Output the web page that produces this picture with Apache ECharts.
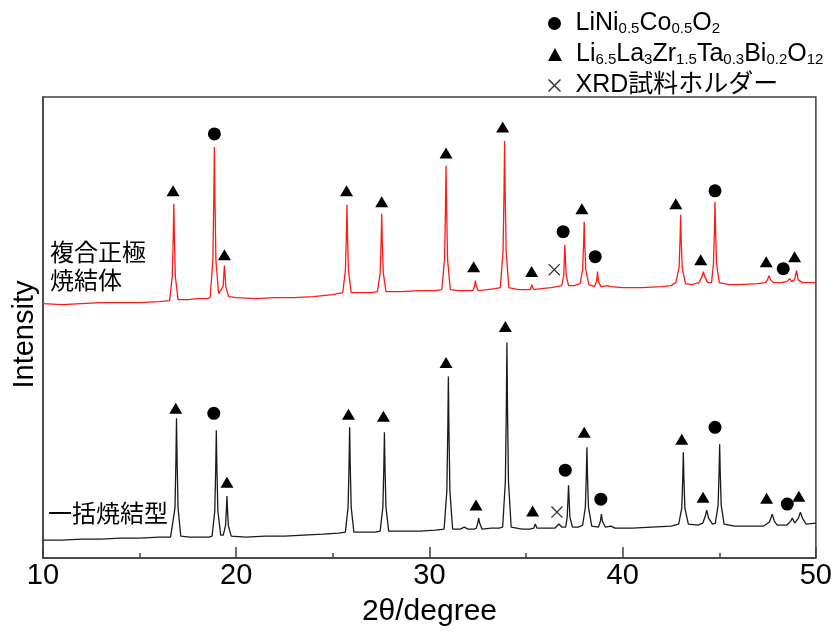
<!DOCTYPE html>
<html>
<head>
<meta charset="utf-8">
<script src="https://cdn.jsdelivr.net/npm/echarts@6/dist/echarts.min.js"></script>
<style>html,body{margin:0;padding:0;background:#fff}#c{width:835px;height:632px}</style>
</head>
<body>
<div id="c"></div>
<script>
// ---- data: [2theta, intensity (arb.)] ----
const xTicks = [10, 20, 30, 40, 50];

const tracePositive = [ // 複合正極焼結体 (red)
[10.0,255],[11.0,254],[12.0,255],[13.0,256],[14.0,256],[15.0,256],[16.0,257],
[16.55,258],[16.69,282],[16.74,321],[16.77,355],[16.80,321],[16.85,282],[16.99,259],
[17.5,259],[18.0,260],[18.5,260],
[18.65,261],[18.79,298],[18.84,359],[18.87,412],[18.90,359],[18.95,298],[19.09,265],
[19.17,264],[19.32,272],[19.39,293],[19.46,272],[19.61,262],
[20.0,261],[21.0,260],[22.0,261],[23.0,261],[24.0,262],[25.0,264],
[25.51,266],[25.65,288],[25.70,323],[25.73,354],[25.76,323],[25.81,288],[25.95,266],
[26.5,266],[27.0,266],
[27.31,267],[27.45,286],[27.50,317],[27.53,345],[27.56,317],[27.61,286],[27.75,267],
[28.5,267],[29.5,268],[30.3,268],
[30.64,269],[30.78,299],[30.83,349],[30.86,393],[30.89,349],[30.94,299],[31.08,269],
[31.5,268],[32.0,268],
[32.25,268],[32.33,272],[32.38,278],[32.43,272],[32.52,268],
[33.0,269],[33.4,270],
[33.67,271],[33.81,307],[33.86,366],[33.89,418],[33.92,366],[33.97,307],[34.11,271],
[34.6,269],[35.0,269],
[35.22,269],[35.30,274],[35.38,269],
[35.8,270],[36.3,271],[36.6,272],
[36.85,273],[36.95,283],[36.98,299],[37.01,314],[37.04,299],[37.08,283],[37.2,273],
[37.5,273],
[37.8,275],[37.93,289],[37.98,315],[38.01,337],[38.04,315],[38.09,289],[38.25,274],
[38.55,272],[38.65,277],[38.70,287],[38.75,277],[38.88,272],
[39.2,273],[39.3,275],[39.4,272],[40.0,271],[41.0,271],[42.0,272],[42.5,273],
[42.75,276],[42.92,291],[42.97,319],[43.0,344],[43.03,319],[43.08,291],[43.25,275],
[43.6,274],[43.95,276],
[44.05,278],[44.13,283],[44.18,287],[44.25,282],[44.4,276],
[44.6,276],
[44.70,295],[44.75,328],[44.78,357],[44.81,328],[44.86,295],[45.0,276],
[45.5,274],[46.0,274],[47.0,275],[47.4,276],
[47.5,279],[47.57,283],[47.65,279],[47.8,276],
[48.2,276],[48.5,277],[48.64,280],[48.75,277],[48.9,279],[49.0,288],[49.08,279],[49.3,276],[49.7,276],[50.0,276]
];

const traceBatch = [ // 一括焼結型 (black)
[10.0,18],[11.0,18],[12.0,19],[13.0,19],[14.0,20],[15.0,20],[16.0,21],[16.6,21],
[16.69,22],[16.83,50],[16.88,98],[16.91,140],[16.94,98],[16.99,50],[17.13,22],
[17.6,21],[18.2,21],[18.6,21],
[18.75,22],[18.89,47],[18.94,91],[18.97,128],[19.00,91],[19.05,47],[19.2,23],
[19.33,23],[19.45,33],[19.49,48],[19.52,62],[19.55,48],[19.59,33],[19.74,22],
[20.5,21],[21.5,22],[22.5,22],[23.5,23],[24.5,24],[25.3,25],
[25.65,26],[25.79,51],[25.84,94],[25.87,131],[25.90,94],[25.95,51],[26.09,26],
[26.7,26],[27.2,26],
[27.45,27],[27.59,51],[27.64,91],[27.67,126],[27.70,91],[27.75,51],[27.89,27],
[28.6,27],[29.5,27],[30.3,28],
[30.76,29],[30.90,67],[30.95,128],[30.98,182],[31.01,128],[31.06,67],[31.2,29],
[31.6,29],[31.8,31],[32.0,29],[32.3,29],
[32.43,30],[32.50,35],[32.55,40],[32.60,35],[32.72,29],
[33.2,30],[33.6,30],
[33.79,31],[33.93,77],[33.98,151],[34.01,216],[34.04,151],[34.09,77],[34.23,31],
[34.8,29],[35.2,29],
[35.40,30],[35.48,34],[35.56,30],
[36.0,30],[36.5,30],[36.7,34],[36.85,31],
[37.05,31],[37.13,41],[37.17,58],[37.2,73],[37.23,58],[37.27,41],[37.4,31],
[37.7,31],
[37.93,33],[38.07,51],[38.12,83],[38.15,111],[38.18,83],[38.23,51],[38.4,32],
[38.75,31],[38.85,37],[38.9,44],[38.95,37],[39.1,31],
[39.4,32],[39.6,30],[40.5,30],[41.5,31],[42.5,32],
[42.90,34],[43.06,50],[43.11,80],[43.14,106],[43.17,80],[43.22,50],[43.4,34],
[43.9,33],[44.15,35],
[44.28,42],[44.35,48],[44.45,40],[44.65,34],
[44.8,35],[44.94,53],[44.99,86],[45.02,114],[45.05,86],[45.10,53],[45.25,34],
[45.8,32],[46.5,32],[47.3,32],
[47.6,36],[47.74,44],[47.85,37],[48.0,33],
[48.5,33],[48.7,37],[48.78,40],[48.9,35],[49.1,40],[49.2,46],[49.3,40],[49.5,34],[50.0,35]
];

const markCircle = [ // LiNi0.5Co0.5O2
[18.87,425],[36.92,327],[38.58,302],[44.78,368],[48.31,290],
[18.84,145],[37.03,88],[38.87,59],[44.78,131],[48.52,54]
];
const markTriangle = [ // Li6.5La3Zr1.5Ta0.3Bi0.2O12
[16.73,368],[19.39,304],[25.71,368],[27.53,357],[30.86,406],[32.29,292],[33.79,432],
[35.29,287],[37.89,350],[42.75,355],[44.04,299],[47.43,297],[48.90,302],
[16.87,150],[19.52,76],[25.81,144],[27.62,142],[30.86,196],[32.41,53],[33.93,232],
[35.34,47],[38.01,126],[43.06,119],[44.16,61],[47.45,60],[49.12,62]
];
const markCross = [ // XRD試料ホルダー
[36.46,289],[36.60,46]
];

const legendNames = ['LNCO', 'LLZTB', 'HOLDER'];
const legendRich = {
  LNCO: '{p| }{n|LiNi}{s|0.5}{n|Co}{s|0.5}{n|O}{s|2}',
  LLZTB: '{p| }{n|Li}{s|6.5}{n|La}{s|3}{n|Zr}{s|1.5}{n|Ta}{s|0.3}{n|Bi}{s|0.2}{n|O}{s|12}',
  HOLDER: '{p| }{n|XRD試料ホルダー}'
};
const annotations = ['複合正極\n焼結体', '一括焼結型'];

// ---- chart ----
const FONT = '"Liberation Sans", Arial, "Noto Sans CJK JP", sans-serif';
const chart = echarts.init(document.getElementById('c'), null, {renderer: 'canvas'});
const crossPath = 'path://M0,8L8,0L100,92L92,100Z M92,0L100,8L8,100L0,92Z';
const rich = {
  p: {width: 9, fontSize: 20, lineHeight: 26},
  n: {fontSize: 25, lineHeight: 26, color: '#000', fontFamily: FONT},
  s: {fontSize: 15, lineHeight: 11, verticalAlign: 'bottom', color: '#000', fontFamily: FONT}
};
function mkLegend(name, top) {
  return {
    data: [name], left: 543, top: top, orient: 'vertical',
    itemWidth: 14, itemHeight: 13, selectedMode: false,
    formatter: n => legendRich[n],
    textStyle: {rich: rich, fontFamily: FONT}
  };
}
chart.setOption({
  animation: false,
  backgroundColor: '#fff',
  grid: {left: 43, right: 18, top: 97, bottom: 73, show: true, borderColor: '#404040', borderWidth: 1.5, backgroundColor: 'transparent'},
  legend: [mkLegend(legendNames[0], 6), mkLegend(legendNames[1], 37), mkLegend(legendNames[2], 68)],
  xAxis: {
    type: 'value', min: xTicks[0], max: xTicks[xTicks.length - 1], interval: 10,
    axisLine: {lineStyle: {color: '#404040', width: 1.5}},
    axisTick: {inside: true, length: 11, lineStyle: {color: '#404040', width: 1.5}},
    minorTick: {show: true, splitNumber: 2, length: 5, lineStyle: {color: '#404040', width: 1.5}},
    splitLine: {show: false},
    axisLabel: {fontSize: 29, color: '#000', margin: 3, fontFamily: FONT},
    name: '2θ/degree', nameLocation: 'middle', nameGap: 39,
    nameTextStyle: {fontSize: 30, color: '#000', fontFamily: FONT}
  },
  yAxis: {
    type: 'value', min: 0, max: 462,
    axisLine: {show: true, lineStyle: {color: '#404040', width: 1.5}},
    axisTick: {show: false}, axisLabel: {show: false}, splitLine: {show: false},
    name: 'Intensity', nameLocation: 'middle', nameGap: 3,
    nameTextStyle: {fontSize: 29, color: '#000', fontFamily: FONT, padding: [0, 14, 0, 0]}
  },
  graphic: [
    {type: 'text', left: 50, top: 238, style: {text: annotations[0], font: '24px "Noto Sans CJK JP"', lineHeight: 28, fill: '#000'}},
    {type: 'text', left: 48, top: 499, style: {text: annotations[1], font: '24px "Noto Sans CJK JP"', lineHeight: 28, fill: '#000'}}
  ],
  series: [
    {type: 'line', data: tracePositive, showSymbol: false, lineStyle: {color: '#ff1a1a', width: 1.3}, silent: true},
    {type: 'line', data: traceBatch, showSymbol: false, lineStyle: {color: '#1a1a1a', width: 1.3}, silent: true},
    {type: 'scatter', name: legendNames[0], data: markCircle, symbol: 'circle', symbolSize: 13, itemStyle: {color: '#000', opacity: 1}},
    {type: 'scatter', name: legendNames[1], data: markTriangle, symbol: 'triangle', symbolSize: [13, 11], itemStyle: {color: '#000', opacity: 1}},
    {type: 'scatter', name: legendNames[2], data: markCross, symbol: crossPath, symbolSize: 12, itemStyle: {color: '#333', opacity: 1}}
  ]
});
</script>
</body>
</html>
